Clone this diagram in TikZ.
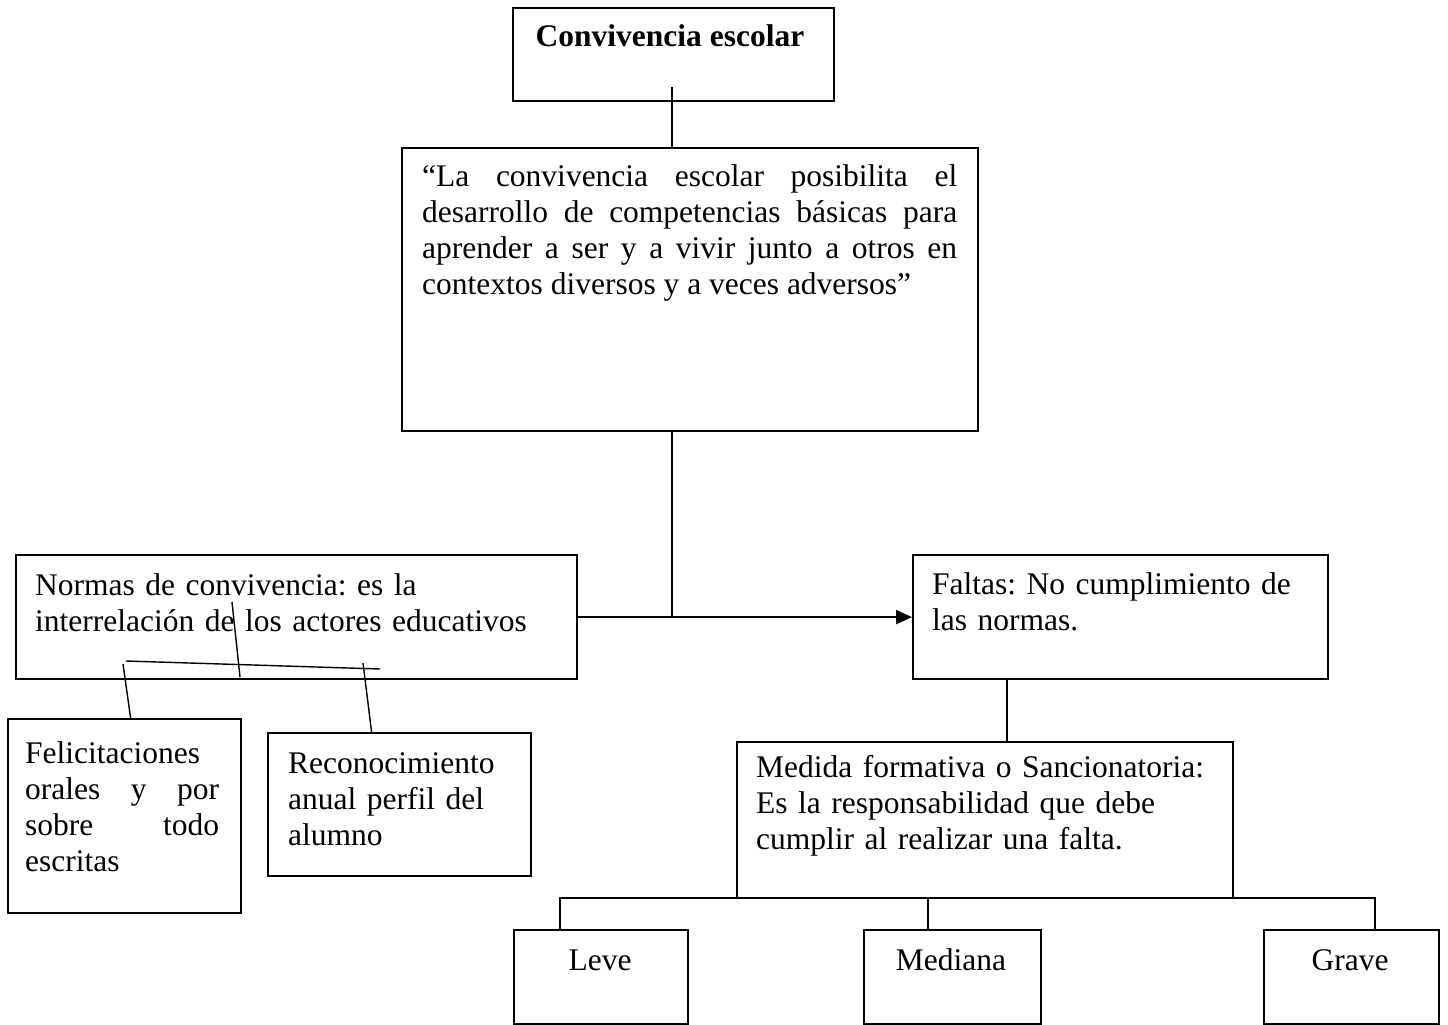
\documentclass[tikz,border=0pt]{standalone}
\usepackage{fontspec}
\setmainfont{Liberation Serif}
\usetikzlibrary{arrows.meta,positioning}
\frenchspacing

\begin{document}
\begin{tikzpicture}[x=1pt,y=-1pt,
        box/.style={draw,line width=2.2pt,inner sep=0pt,anchor=north west},
        txt/.style={inner sep=0pt,anchor=base west,font=\fontsize{31.5}{36}\selectfont},
        conn/.style={line width=2pt},
        stray/.style={line width=1.4pt}]
        \useasboundingbox (0,0) rectangle (1448,1025);

        \node[box,minimum width=321pt,minimum height=93pt] (titulo) at (512,7) {};
        \node[txt,anchor=base,font=\fontsize{31.5}{36}\selectfont\bfseries] (tituloT) at (670,47) {Convivencia escolar};

        \node[box,minimum width=576pt,minimum height=283pt] (cita) at (401,147) {};
        \node[txt,text width=535pt,align=justify] (citaT) at (422,186)
            {“La convivencia escolar posibilita el\linebreak desarrollo de competencias básicas para\linebreak aprender a ser y a vivir junto a otros en\linebreak contextos diversos y a veces adversos”};

        \node[box,minimum width=561pt,minimum height=124pt] (normas) at (15,554) {};
        \node[txt,text width=530pt,align=left] (normasT) at (35,595)
            {Normas de convivencia: es la\\ interrelación de los actores educativos};

        \node[box,minimum width=415pt,minimum height=124pt] (faltas) at (912,554) {};
        \node[txt,text width=380pt,align=left] (faltasT) at (932,594)
            {Faltas: No cumplimiento de\\ las normas.};

        \node[box,minimum width=233pt,minimum height=194pt] (felic) at (7,718) {};
        \node[txt,text width=194pt,align=justify] (felicT) at (25,763)
            {Felicitaciones\\ orales y por\linebreak sobre todo\linebreak escritas};

        \node[box,minimum width=263pt,minimum height=143pt] (recon) at (267,732) {};
        \node[txt,text width=230pt,align=left] (reconT) at (288,773)
            {Reconocimiento\\ anual perfil del\\ alumno};

        \node[box,minimum width=496pt,minimum height=156pt] (medida) at (736,741) {};
        \node[txt,text width=470pt,align=left] (medidaT) at (756,777)
            {Medida formativa o Sancionatoria:\\ Es la responsabilidad que debe\\ cumplir al realizar una falta.};

        \node[box,minimum width=174pt,minimum height=94pt] (leve) at (513,929) {};
        \node[box,minimum width=177pt,minimum height=94pt] (mediana) at (863,929) {};
        \node[box,minimum width=175pt,minimum height=94pt] (grave) at (1263,929) {};
        \node[txt,anchor=base] (leveT) at (600,970) {Leve};
        \node[txt,anchor=base] (medianaT) at (951,970) {Mediana};
        \node[txt,anchor=base] (graveT) at (1350,970) {Grave};

        \coordinate (c1) at (672,87);
        \coordinate (c2) at (672,616);
        \coordinate (c3) at (1007,678);
        \coordinate (b1) at (560,898);
        \coordinate (b2) at (928,898);
        \coordinate (b3) at (1375,898);
        \coordinate (s1) at (126,661);
        \coordinate (s2) at (380,669);
        \coordinate (s3) at (232,602);
        \coordinate (s4) at (240,677);
        \coordinate (s5) at (123,664);
        \coordinate (s6) at (363,663);

        \draw[conn] (c1) -- (c1 |- cita.north);
        \draw[conn] (c2 |- cita.south) -- (c2);
        \draw[conn,-{Triangle[length=16pt,width=14pt]}] (normas.east) -- (faltas.west);
        \draw[conn] (c3) -- (c3 |- medida.north);
        \draw[conn] (b1 |- leve.north) -- (b1) -- (b3) -- (b3 |- grave.north);
        \draw[conn] (b2) -- (b2 |- mediana.north);

        \draw[stray] (s1) -- (s2);
        \draw[stray] (s3) -- (s4);
        \draw[stray] (s5) -- ([xshift=6pt]felic.north);
        \draw[stray] (s6) -- ([xshift=-28pt]recon.north);
\end{tikzpicture}
\end{document}
